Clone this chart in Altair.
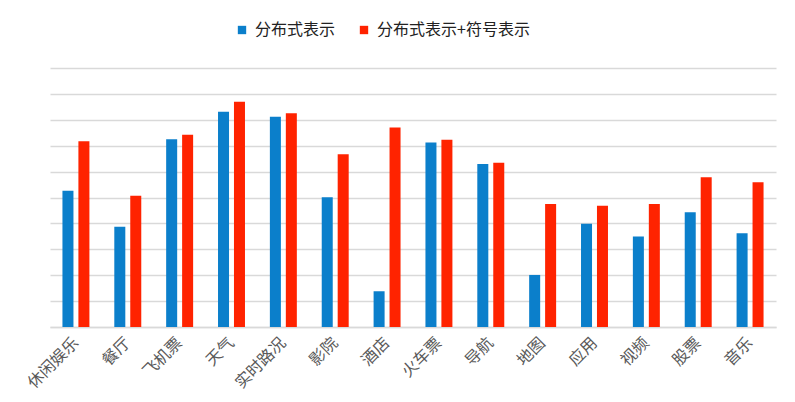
import altair as alt
import pandas as pd

categories = ["休闲娱乐", "餐厅", "飞机票", "天气", "实时路况", "影院", "酒店",
              "火车票", "导航", "地图", "应用", "视频", "股票", "音乐"]
series_names = ["分布式表示", "分布式表示+符号表示"]
dist_values = [52.6, 38.7, 72.5, 83.1, 81.2, 50.1, 13.8, 71.2, 62.9, 20.1, 39.9, 34.9, 44.3, 36.2]
dist_sym_values = [71.7, 50.7, 74.2, 87.0, 82.5, 66.7, 77.0, 72.3, 63.4, 47.5, 46.8, 47.5, 57.8, 55.9]
colors = ["#0B7FCB", "#FF2300"]

rows = []
for c, a, b in zip(categories, dist_values, dist_sym_values):
    rows.append({"类别": c, "系列": series_names[0], "值": a})
    rows.append({"类别": c, "系列": series_names[1], "值": b})
df = pd.DataFrame(rows)

FONT = "Noto Sans CJK SC"

chart = alt.Chart(df).mark_bar().encode(
    x=alt.X("类别:N", sort=categories,
            scale=alt.Scale(paddingInner=0.48, paddingOuter=0.24),
            axis=alt.Axis(title=None, labelAngle=-45, labelAlign="right", labelBaseline="middle",
                          labelFontSize=16, labelColor="#595959", labelFont=FONT,
                          ticks=False, domain=True, domainColor="#d9d9d9", domainWidth=1.5,
                          labelPadding=13)),
    xOffset=alt.XOffset("系列:N", sort=series_names, scale=alt.Scale(paddingInner=0.31)),
    y=alt.Y("值:Q", scale=alt.Scale(domain=[0, 100]),
            axis=alt.Axis(title=None, labels=False, ticks=False, domain=False,
                          values=list(range(0, 101, 10)),
                          grid=True, gridColor="#d9d9d9", gridWidth=1.5)),
    color=alt.Color("系列:N", sort=series_names,
                    scale=alt.Scale(domain=series_names, range=colors),
                    legend=alt.Legend(title=None, orient="none", legendX=184, legendY=-46,
                                      direction="horizontal", symbolType="square", symbolSize=70,
                                      labelFontSize=16, labelFont=FONT, labelColor="#222222",
                                      columnPadding=20, labelOffset=5, symbolStrokeWidth=0)),
).properties(
    width=726, height=259,
    autosize=alt.AutoSizeParams(type="none"),
    padding={"left": 42, "top": 60, "right": 11, "bottom": 67},
).configure_view(stroke=None)

chart.save("out.html", embed_options={"renderer": "svg", "actions": False})
